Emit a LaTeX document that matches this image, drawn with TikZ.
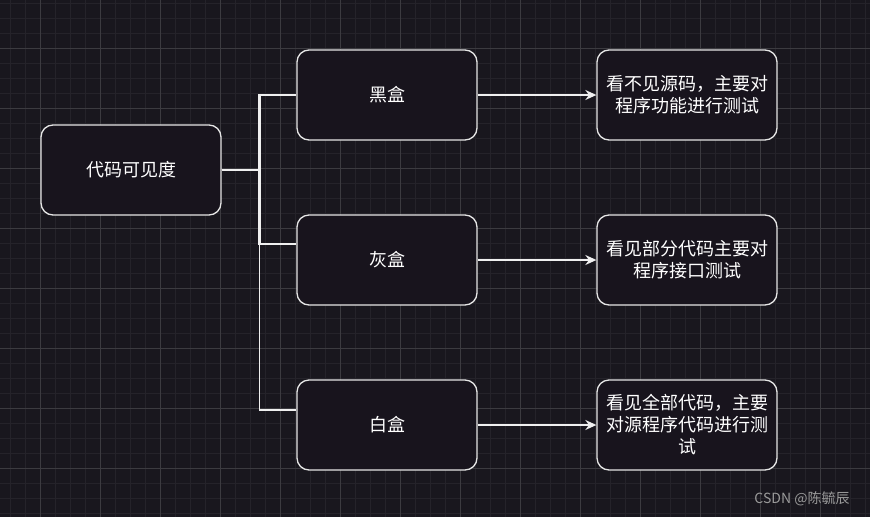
\documentclass[tikz,border=0pt]{standalone}
\usepackage{fontspec}
\setmainfont{Noto Sans CJK SC}
\usetikzlibrary{arrows.meta,positioning}
\definecolor{cBg}{HTML}{19171E}
\definecolor{cBox}{HTML}{18141D}
\definecolor{cMinor}{HTML}{25232A}
\definecolor{cMajor}{HTML}{3C3B40}
\definecolor{cLine}{HTML}{F0F0F0}
\definecolor{cBorder}{HTML}{E6E6E6}
\definecolor{cMark}{HTML}{9A9A9A}

\begin{document}
\begin{tikzpicture}[
  x=1pt, y=-1pt,
  >=Stealth,
  font=\fontsize{18}{22}\selectfont,
  node distance=73.7pt and 118.7pt,
  box/.style={draw=cBorder, fill=cBox, rounded corners=12pt,
              minimum width=180pt, minimum height=90pt,
              align=center, text=white, line width=1.3pt},
  tree/.style={draw=cLine, line width=2.6pt},
  thin/.style={draw=cLine, line width=1.4pt},
  arr/.style={->, line width=1.4pt, color=cLine,
              arrows={-Stealth[length=11pt, width=10pt]}},
]

% ---- background grid ----
\useasboundingbox[fill=cBg] (0,0) rectangle (870,517);
\foreach \gx in {10,25,...,865}
  \draw[cMinor, line width=1pt] (\gx,0) -- (\gx,517);
\foreach \gy in {3,18,...,515}
  \draw[cMinor, line width=1pt] (0,\gy) -- (870,\gy);
\foreach \gx in {40,100,...,860}
  \draw[cMajor, line width=1pt] (\gx,0) -- (\gx,517);
\foreach \gy in {48,108,...,515}
  \draw[cMajor, line width=1pt] (0,\gy) -- (870,\gy);

% ---- boxes ----
\node[box] (vis) at (131,170) {代码可见度};

\node[box] (black) at (387,95) {黑盒};
\node[box, below=of black] (gray) {灰盒};
\node[box, below=of gray] (white) {白盒};

\node[box, right=of black] (blacktxt)
  {看不见源码，主要对\\程序功能进行测试};
\node[box, right=of gray] (graytxt)
  {看见部分代码主要对\\程序接口测试};
\node[box, right=of white] (whitetxt)
  {看见全部代码，主要\\对源程序代码进行测\\试};

% ---- connectors ----
\draw[thin] (vis.east) -- ++(38,0) |- ([yshift=15pt]white.west);
\draw[tree] (vis.east) -- ++(38,0) |- (black.west);
\draw[tree] (vis.east) -- ++(38,0) |- ([yshift=16pt]gray.west);

\draw[arr] (black) -- (blacktxt);
\draw[arr] (gray) -- (graytxt);
\draw[arr] (white) -- (whitetxt);

% ---- watermark ----
\node[text=cMark, font=\fontsize{14}{16}\selectfont] (mark) at (802,499)
  {CSDN @陈毓辰};

\end{tikzpicture}
\end{document}
